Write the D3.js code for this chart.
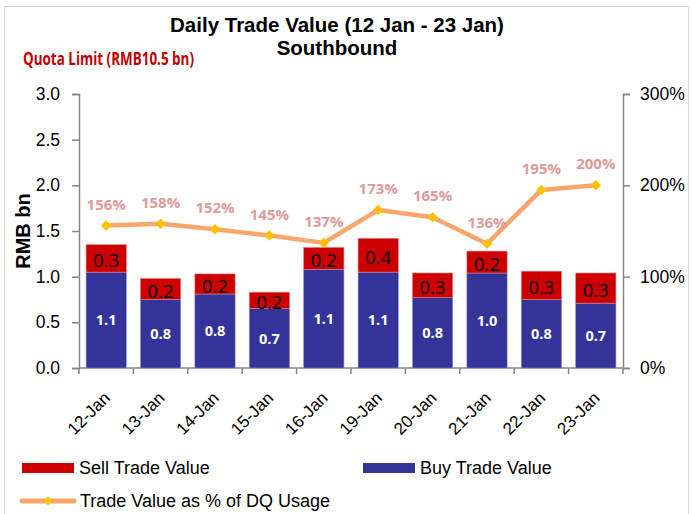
<!DOCTYPE html>
<html>
<head>
<meta charset="utf-8">
<script src="https://cdn.jsdelivr.net/npm/d3@7"></script>
<style>
  body { margin: 0; background: #fff; }
  svg { display: block; }
</style>
</head>
<body>
<div id="chart"></div>
<script>
// data
const dates = ['12-Jan', '13-Jan', '14-Jan', '15-Jan', '16-Jan', '19-Jan', '20-Jan', '21-Jan', '22-Jan', '23-Jan'];
const buyValues = [1.05, 0.75, 0.81, 0.65, 1.08, 1.05, 0.77, 1.04, 0.75, 0.71];
const sellValues = [0.30, 0.23, 0.22, 0.18, 0.24, 0.37, 0.27, 0.24, 0.31, 0.33];
const dqUsage = [156, 158, 152, 145, 137, 173, 165, 136, 195, 200];
const leftTicks = [0, 0.5, 1.0, 1.5, 2.0, 2.5, 3.0];
const rightTicks = [0, 100, 200, 300];

const W = 693, H = 514;
const plot = {left: 79, right: 623, top: 94, bottom: 368};

const red = '#CC0000', blue = '#333399', lineCol = '#F9A66C', marker = '#FFC000', pctCol = '#E09A9A';
const arial = '"Liberation Sans", Arial, sans-serif';
const calibri = '"Open Sans", "Noto Sans", sans-serif';

const svg = d3.select('#chart').append('svg')
  .attr('width', W).attr('height', H);

// cadre
svg.append('rect')
  .attr('x', 4.5).attr('y', 6.5).attr('width', 684).attr('height', 520)
  .attr('fill', 'none').attr('stroke', '#D9D9D9');

// échelles
const x = d3.scaleBand().domain(dates).range([plot.left, plot.right]).paddingInner(0.26).paddingOuter(0.13);
const xb = d3.scaleBand().domain(dates).range([plot.left, plot.right]);
const y = d3.scaleLinear().domain([0, 3]).range([plot.bottom, plot.top]);
const y2 = d3.scaleLinear().domain([0, 300]).range([plot.bottom, plot.top]);

// axes
const axisStyle = g => {
  g.selectAll('.domain').attr('stroke', '#868686').attr('stroke-width', 1.5);
  g.selectAll('.tick line').attr('stroke', '#868686').attr('stroke-width', 1.5);
  g.selectAll('text').attr('fill', '#000').style('font-family', arial).style('font-size', '17.5px');
};

svg.append('g')
  .attr('transform', `translate(${plot.left},0)`)
  .call(d3.axisLeft(y).tickValues(leftTicks).tickFormat(d3.format('.1f')).tickSize(7).tickPadding(12))
  .call(axisStyle);

svg.append('g')
  .attr('transform', `translate(${plot.right},0)`)
  .call(d3.axisRight(y2).tickValues(rightTicks).tickFormat(d => d + '%').tickSize(7).tickPadding(10))
  .call(axisStyle);

// axe X : graduations aux limites des bandes
const xAxis = svg.append('g').attr('transform', `translate(0,${plot.bottom})`);
xAxis.append('line')
  .attr('x1', plot.left).attr('x2', plot.right)
  .attr('stroke', '#868686').attr('stroke-width', 1.5);
xAxis.selectAll('line.tk')
  .data(dates.concat(['end']))
  .join('line').attr('class', 'tk')
  .attr('x1', (d, i) => i < dates.length ? xb(d) : plot.right)
  .attr('x2', (d, i) => i < dates.length ? xb(d) : plot.right)
  .attr('y1', 0).attr('y2', 6)
  .attr('stroke', '#868686').attr('stroke-width', 1.5);
xAxis.selectAll('text')
  .data(dates)
  .join('text')
  .attr('transform', d => `translate(${xb(d) + xb.bandwidth() / 2 + 5},${31}) rotate(-45)`)
  .attr('text-anchor', 'end')
  .style('font-family', arial).style('font-size', '17px')
  .text(d => d);

// barres empilées
const bars = svg.append('g');
bars.selectAll('rect.buy')
  .data(dates)
  .join('rect').attr('class', 'buy')
  .attr('x', d => x(d)).attr('width', x.bandwidth())
  .attr('y', (d, i) => y(buyValues[i]))
  .attr('height', (d, i) => y(0) - y(buyValues[i]))
  .attr('fill', blue).attr('stroke', '#8E8EC8').attr('stroke-width', 0.6);
bars.selectAll('rect.sell')
  .data(dates)
  .join('rect').attr('class', 'sell')
  .attr('x', d => x(d)).attr('width', x.bandwidth())
  .attr('y', (d, i) => y(buyValues[i] + sellValues[i]))
  .attr('height', (d, i) => y(buyValues[i]) - y(buyValues[i] + sellValues[i]))
  .attr('fill', red).attr('stroke', '#E88080').attr('stroke-width', 0.6);

// étiquettes des barres
bars.selectAll('text.buy')
  .data(dates)
  .join('text').attr('class', 'buy')
  .attr('x', d => x(d) + x.bandwidth() / 2)
  .attr('y', (d, i) => (y(0) + y(buyValues[i])) / 2)
  .attr('dy', '0.36em').attr('text-anchor', 'middle')
  .attr('fill', '#fff')
  .style('font-family', calibri).style('font-weight', 'bold').style('font-size', '14.5px')
  .text((d, i) => buyValues[i].toFixed(1));
bars.selectAll('text.sell')
  .data(dates)
  .join('text').attr('class', 'sell')
  .attr('x', d => x(d) + x.bandwidth() / 2)
  .attr('y', (d, i) => (y(buyValues[i]) + y(buyValues[i] + sellValues[i])) / 2 + 2)
  .attr('dy', '0.36em').attr('text-anchor', 'middle')
  .attr('fill', '#000')
  .style('font-family', calibri).style('font-size', '18.5px')
  .text((d, i) => sellValues[i].toFixed(1));

// ligne % DQ
const line = d3.line()
  .x((d, i) => xb(dates[i]) + xb.bandwidth() / 2)
  .y(d => y2(d));
svg.append('path')
  .datum(dqUsage)
  .attr('d', line)
  .attr('fill', 'none').attr('stroke', lineCol).attr('stroke-width', 4.5)
  .attr('stroke-linejoin', 'round');

const diamond = d3.symbol().type(d3.symbolDiamond2).size(70);
svg.append('g').selectAll('path')
  .data(dqUsage)
  .join('path')
  .attr('d', diamond)
  .attr('transform', (d, i) => `translate(${xb(dates[i]) + xb.bandwidth() / 2},${y2(d)})`)
  .attr('fill', marker);

svg.append('g').selectAll('text')
  .data(dqUsage)
  .join('text')
  .attr('x', (d, i) => xb(dates[i]) + xb.bandwidth() / 2)
  .attr('y', d => y2(d) - 16)
  .attr('text-anchor', 'middle')
  .attr('fill', pctCol)
  .style('font-family', calibri).style('font-weight', 'bold').style('font-size', '15px')
  .text(d => d + '%');

// titres
svg.append('text')
  .attr('x', 337).attr('y', 32).attr('text-anchor', 'middle')
  .style('font-family', arial).style('font-weight', 'bold').style('font-size', '20.5px')
  .text('Daily Trade Value (12 Jan - 23 Jan)');
svg.append('text')
  .attr('x', 337).attr('y', 55).attr('text-anchor', 'middle')
  .style('font-family', arial).style('font-weight', 'bold').style('font-size', '20.5px')
  .text('Southbound');
svg.append('text')
  .attr('x', 23).attr('y', 65)
  .attr('fill', '#C00000')
  .attr('textLength', 171).attr('lengthAdjust', 'spacingAndGlyphs')
  .style('font-family', calibri).style('font-weight', 'bold').style('font-size', '17.5px')
  .text('Quota Limit (RMB10.5 bn)');

svg.append('text')
  .attr('transform', 'translate(30,231) rotate(-90)')
  .attr('text-anchor', 'middle')
  .style('font-family', arial).style('font-weight', 'bold').style('font-size', '20px')
  .text('RMB bn');

// légende
const legend = svg.append('g').style('font-family', arial).style('font-size', '18px');
const legendItems = [
  {label: 'Sell Trade Value', color: red, x: 22, y: 468},
  {label: 'Buy Trade Value', color: blue, x: 363, y: 468}
];
legend.selectAll('rect')
  .data(legendItems)
  .join('rect')
  .attr('x', d => d.x).attr('y', d => d.y - 5)
  .attr('width', 52).attr('height', 10)
  .attr('fill', d => d.color);
legend.selectAll('text.lg')
  .data(legendItems)
  .join('text').attr('class', 'lg')
  .attr('x', d => d.x + 57).attr('y', d => d.y + 6)
  .text(d => d.label);
legend.append('line')
  .attr('x1', 22).attr('x2', 74).attr('y1', 501).attr('y2', 501)
  .attr('stroke', lineCol).attr('stroke-width', 5).attr('stroke-linecap', 'round');
legend.append('path')
  .attr('d', d3.symbol().type(d3.symbolDiamond2).size(50))
  .attr('transform', 'translate(48,501)')
  .attr('fill', marker);
legend.append('text')
  .attr('x', 80).attr('y', 507)
  .text('Trade Value as % of DQ Usage');
</script>
</body>
</html>
